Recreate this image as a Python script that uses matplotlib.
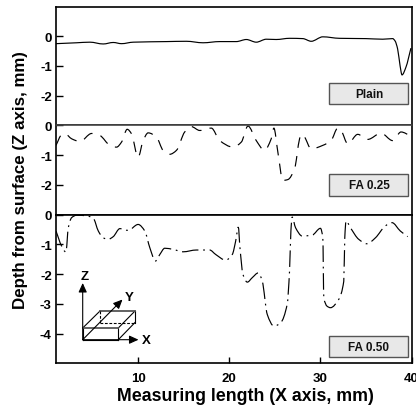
import matplotlib
matplotlib.use("Agg")
import matplotlib.pyplot as plt
from matplotlib.patches import Rectangle, PathPatch
from matplotlib.path import Path

plt.rcParams['font.family'] = ['Liberation Sans', 'DejaVu Sans']
plt.rcParams['font.weight'] = 'bold'

plain_x = [1, 3.26, 4.72, 6.18, 7.28, 8.19, 9.47, 13.12, 15.31, 17.13, 18.96, 20.78, 21.88, 22.97,
           24.07, 25.16, 26.62, 28.08, 29.0, 30.27, 32.09, 35.0, 36.84, 37.93, 38.2, 38.48, 38.75, 38.96, 39.39, 39.94]
plain_z = [-.25, -.22, -.2, -.26, -.21, -.25, -.2, -.18, -.17, -.22, -.18, -.18, -.11, -.2,
           -.1, -.11, -.07, -.08, -.17, -.02, -.07, -.08, -.1, -.08, -.16, -.43, -1.0, -1.3, -1.04, -.4]

fa25_x = [1, 1.62, 1.99, 2.72, 3.63, 4.91, 5.82, 6.91, 7.64, 8.19, 8.81, 9.28, 10.01, 10.56, 11.11, 12.02,
          12.75, 13.48, 14.21, 15.12, 15.85, 16.77, 18.04, 18.96, 20.42, 21.33, 22.06, 22.97, 23.88, 24.61,
          24.9, 25.34, 25.89, 26.44, 27.17, 27.72, 27.9, 28.26, 28.99, 30.27, 31.18, 31.91, 32.28, 33.01,
          34.1, 35.2, 36.66, 37.93, 38.85, 39.94]
fa25_z = [-.67, -.31, -.28, -.45, -.54, -.27, -.34, -.67, -.73, -.56, -.13, -.28, -1.07, -.51, -.25, -.39,
          -.84, -.97, -.84, -.22, -.04, -.17, -.09, -.51, -.73, -.56, -.02, -.51, -.84, -.45,
          -.09, -.9, -1.85, -1.82, -1.46, -.45, -.3, -.39, -.79, -.67, -.51, -.09, -.17, -.62,
          -.3, -.47, -.26, -.51, -.22, -.36]

fa50_x = [1, 1.62, 2.09, 2.35, 2.72, 3.26, 4.36, 5.09, 5.64, 6.18, 6.73, 7.28, 8.01, 8.92, 10.01, 10.74,
          11.29, 11.91, 12.39, 12.93, 13.85, 14.94, 16.4, 17.86, 18.52, 19.61, 20.34, 20.71, 21.0, 21.18,
          21.51, 21.99, 22.53, 23.19, 23.63, 24.18, 24.91, 25.64, 26.36, 26.62, 26.77, 26.91, 27.28, 28.01,
          29.1, 30.01, 30.27, 30.38, 30.74, 31.11, 32.02, 32.57, 32.68, 32.82, 33.3, 34.21, 35.12, 36.04,
          37.13, 37.86, 38.77, 39.58]
fa50_z = [-.55, -1.06, -1.26, -.44, -.1, -.02, -.04, -.12, -.55, -.78, -.83, -.74, -.47, -.53, -.33, -.55,
          -1.11, -1.56, -1.34, -1.13, -1.17, -1.25, -1.19, -1.19, -1.34, -1.53, -1.34, -.89, -.42, -1.11,
          -2.01, -2.27, -2.12, -1.96, -2.24, -3.36, -3.75, -3.64, -3.02, -1.9, -.55, -.08, -.44, -.72,
          -.69, -.46, -.78, -2.8, -3.08, -3.13, -2.85, -2.24, -.78, -.21, -.44, -.83, -.98, -.78,
          -.38, -.27, -.55, -.74]

panel_labels = ['Plain', 'FA 0.25', 'FA 0.50']
panel_limits = [(-3, 1), (-3, 0), (-5, 0)]
panel_ticks = [[0, -1, -2], [0, -1, -2], [0, -1, -2, -3, -4]]
x_ticks = [10, 20, 30, 40]
series = [(plain_x, plain_z), (fa25_x, fa25_z), (fa50_x, fa50_z)]
styles = ['-', (0, (9, 7)), (0, (14, 4, 1.5, 4))]


def smooth_path(xs, ys):
    """Bezier path through the read points (monotone tangents, no overshoot)."""
    n = len(xs)
    d = [(ys[i + 1] - ys[i]) / (xs[i + 1] - xs[i]) for i in range(n - 1)]
    m = [d[0]] + [0.0] * (n - 2) + [d[-1]]
    for i in range(1, n - 1):
        if d[i - 1] * d[i] > 0:
            m[i] = 2 * d[i - 1] * d[i] / (d[i - 1] + d[i])
    verts = [(xs[0], ys[0])]
    codes = [Path.MOVETO]
    for i in range(n - 1):
        h = (xs[i + 1] - xs[i]) / 3
        verts += [(xs[i] + h, ys[i] + m[i] * h), (xs[i + 1] - h, ys[i + 1] - m[i + 1] * h), (xs[i + 1], ys[i + 1])]
        codes += [Path.CURVE4] * 3
    return Path(verts, codes)


W, H = 416, 410
fig = plt.figure(figsize=(W / 100, H / 100), dpi=100, facecolor='white')
gs = fig.add_gridspec(3, 1, height_ratios=[4, 3, 5], hspace=0,
                      left=56 / W, right=411.5 / W, top=1 - 7.5 / H, bottom=1 - 364.3 / H)

box_tops = [83.5, 175, 336.7]
box_left, box_right = 328.5, 407.5
box_h = 21.5

axes = []
for i in range(3):
    ax = fig.add_subplot(gs[i])
    axes.append(ax)
    ax.add_patch(PathPatch(smooth_path(*series[i]), facecolor='none', edgecolor='black', lw=0.85, ls=styles[i]))
    ax.set_xlim(1, 40)
    ax.set_ylim(*panel_limits[i])
    ax.set_yticks(panel_ticks[i])
    ax.set_yticklabels([str(t) for t in panel_ticks[i]], fontsize=9.5, fontweight='bold')
    ax.tick_params(axis='y', direction='in', length=5, width=1, pad=3)
    for s in ax.spines.values():
        s.set_linewidth(1.2)
    if i < 2:
        ax.set_xticks([])
    else:
        ax.set_xticks(x_ticks)
        ax.set_xticklabels([str(t) for t in x_ticks], fontsize=9.5, fontweight='bold')
        ax.tick_params(axis='x', direction='in', length=4, width=1, pad=6)
axes[1].spines['top'].set_color('#444444')

# Overlay in pixel coordinates for annotations
ov = fig.add_axes([0, 0, 1, 1], facecolor='none')
ov.set_xlim(0, W)
ov.set_ylim(H, 0)
ov.axis('off')

for label, top in zip(panel_labels, box_tops):
    ov.add_patch(Rectangle((box_left, top), box_right - box_left, box_h,
                           facecolor='#e8e8e8', edgecolor='#555555', lw=1))
    ov.text((box_left + box_right) / 2 + 1, top + box_h / 2 + 0.3, label, ha='center', va='center',
            fontsize=8.5, fontweight='bold', color='#111111')

# Coordinate sketch
def seg(x0, y0, x1, y1, **kw):
    d = dict(color='black', lw=0.8)
    d.update(kw)
    ov.plot([x0, x1], [y0, y1], **d)

for (x0, y0, x1, y1) in [(82.7, 340.7, 118.3, 340.7), (82.7, 329, 82.7, 340.7), (118.3, 329, 118.3, 340.7),
                         (82.7, 329, 100, 312), (118.3, 340.7, 135, 323.5), (118.3, 329, 135, 312),
                         (135, 312, 135, 323.5)]:
    seg(x0, y0, x1, y1)
seg(82.7, 329, 118.3, 329, color='#555555', lw=1.3)
seg(100, 312, 135, 312, color='#555555', lw=1.3)
seg(100, 323.5, 135, 323.5, ls=(0, (2.5, 1.5)))
seg(100, 312, 100, 323.5, ls=(0, (2.5, 1.5)))

arrow = dict(arrowstyle='-|>,head_width=0.25,head_length=0.55', color='black', lw=0.8, shrinkA=0, shrinkB=0)
ov.annotate('', xy=(82.7, 284), xytext=(82.7, 340.7), arrowprops=arrow)
ov.annotate('', xy=(138.5, 340.7), xytext=(82.7, 340.7), arrowprops=arrow)
ov.annotate('', xy=(122.5, 300.5), xytext=(82.7, 340.7), arrowprops=arrow)
ov.text(84.5, 277.5, 'Z', ha='center', va='center', fontsize=9.5, fontweight='bold')
ov.text(129, 298.5, 'Y', ha='center', va='center', fontsize=9.5, fontweight='bold')
ov.text(146.5, 341.5, 'X', ha='center', va='center', fontsize=9.5, fontweight='bold')

fig.text(245.5 / W, 1 - 397 / H, 'Measuring length (X axis, mm)', ha='center', va='center',
         fontsize=12.75, fontweight='bold')
fig.text(20.5 / W, 1 - 180 / H, 'Depth from surface (Z axis, mm)', rotation=90, ha='center', va='center',
         fontsize=12.2, fontweight='bold')

fig.savefig('out.png', dpi=100, facecolor='white')
